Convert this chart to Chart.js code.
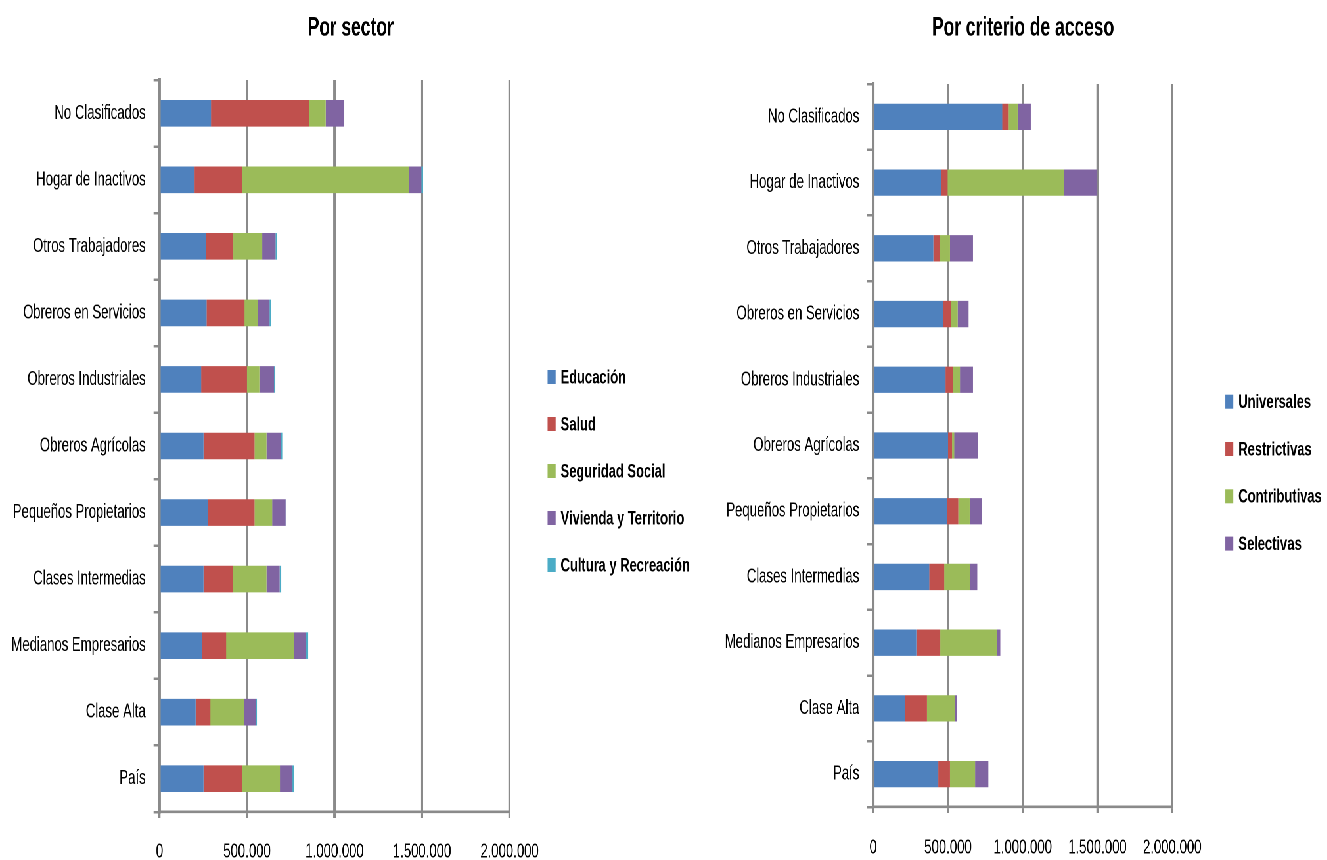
<!DOCTYPE html>
<html>
<head>
<meta charset="utf-8">
<script src="https://cdn.jsdelivr.net/npm/chart.js@4/dist/chart.umd.min.js"></script>
<style>
  html, body { margin: 0; padding: 0; background: #fff; }
  body { width: 1327px; height: 860px; position: relative; overflow: hidden; }
  #stage { position: absolute; left: 0; top: 0; height: 860px; transform-origin: 0 0; }
  .wrap { position: absolute; top: 0; height: 860px; }
</style>
</head>
<body>
<div id="stage">
  <div class="wrap" id="wrapL"><canvas id="chartL"></canvas></div>
  <div class="wrap" id="wrapR"><canvas id="chartR"></canvas></div>
</div>
<script>
// ---- Data ----
const categories = ["No Clasificados", "Hogar de Inactivos", "Otros Trabajadores", "Obreros en Servicios",
  "Obreros Industriales", "Obreros Agrícolas", "Pequeños Propietarios", "Clases Intermedias",
  "Medianos Empresarios", "Clase Alta", "País"];

// Por sector
const educacion     = [294000, 200000, 263000, 269000, 238000, 251000, 276000, 251000, 244000, 206000, 251000];
const salud         = [561000, 273000, 158000, 217000, 261000, 292000, 267000, 166000, 137000,  85000, 222000];
const seguridadSoc  = [ 94000, 952000, 166000,  76000,  71000,  68000, 101000, 194000, 387000, 191000, 215000];
const vivienda      = [102000,  71000,  76000,  67000,  85000,  80000,  76000,  75000,  66000,  67000,  72000];
const cultura       = [  4000,   9000,   8000,   8000,   6000,  10000,   4000,   9000,  16000,   7000,   8000];

// Por criterio de acceso
const universales   = [863000, 455000, 402000, 469000, 484000, 500000, 493000, 375000, 288000, 214000, 435000];
const restrictivas  = [ 43000,  43000,  44000,  51000,  49000,  27000,  76000, 100000, 160000, 145000,  78000];
const contributivas = [ 60000, 778000,  67000,  45000,  47000,  15000,  76000, 172000, 380000, 186000, 168000];
const selectivas    = [ 88000, 223000, 154000,  73000,  87000, 157000,  80000,  49000,  22000,  13000,  89000];

const xTicks = [0, 500000, 1000000, 1500000, 2000000];
const xTickLabels = ["0", "500.000", "1.000.000", "1.500.000", "2.000.000"];

const titleL = "Por sector";
const titleR = "Por criterio de acceso";
const legendL = ["Educación", "Salud", "Seguridad Social", "Vivienda y Territorio", "Cultura y Recreación"];
const legendR = ["Universales", "Restrictivas", "Contributivas", "Selectivas"];

// ---- Styles / layout ----
const S = 0.657; // horizontal compression of the whole figure (narrow lettering of the original)
const COLORS = ["#4F81BD", "#C0504D", "#9BBB59", "#8064A2", "#4BACC6"];
const FONT = "'Liberation Sans', Arial, sans-serif";
const GRID = "#8a8a8a";

Chart.defaults.font.family = FONT;
Chart.defaults.color = "#000";

document.getElementById('stage').style.width = (1400 / S) + 'px';
document.getElementById('stage').style.transform = 'scaleX(' + S + ')';

function manualLegend(x, y0, step) {
  return {
    id: 'manualLegend',
    afterDraw(chart) {
      const ctx = chart.ctx;
      ctx.save();
      ctx.font = "bold 19.7px " + FONT;
      ctx.textBaseline = 'middle';
      ctx.textAlign = 'left';
      chart.data.datasets.forEach((ds, i) => {
        const cy = y0 + i * step;
        ctx.fillStyle = ds.backgroundColor;
        ctx.fillRect(x, cy - 7, 8 / S, 14);
        ctx.fillStyle = "#000";
        ctx.fillText(ds.label, x + 13 / S, cy + 1);
      });
      ctx.restore();
    }
  };
}

function makeChart(id, wrapId, title, labels, series, o) {
  // canvas is centred on the title position; a blank right-hand box reserves legend room
  const pageLeft = 2 * o.titleX - o.canvasRight;
  const wrap = document.getElementById(wrapId);
  wrap.style.left = (pageLeft / S) + 'px';
  wrap.style.width = ((o.canvasRight - pageLeft) / S) + 'px';
  const datasets = series.map((s, i) => ({
    label: labels[i],
    data: s,
    backgroundColor: COLORS[i],
    borderWidth: 0,
    barPercentage: 0.4,
    categoryPercentage: 1.0
  }));
  const yWidth = (o.axisX - pageLeft) / S;
  const rightW = (o.canvasRight - o.plotRight) / S;
  return new Chart(document.getElementById(id), {
    type: 'bar',
    data: { labels: categories, datasets },
    options: {
      indexAxis: 'y',
      responsive: true,
      maintainAspectRatio: false,
      animation: false,
      devicePixelRatio: 2,
      layout: { padding: 0 },
      plugins: {
        legend: { display: false },
        tooltip: { enabled: false },
        title: {
          display: true,
          text: title,
          font: { size: 26.5, weight: 'bold', family: FONT },
          color: '#000',
          padding: { top: 12.1, bottom: o.titleBottom }
        }
      },
      scales: {
        x: {
          stacked: true,
          min: 0, max: 2000000,
          afterBuildTicks(scale) { scale.ticks = xTicks.map(v => ({ value: v })); },
          afterFit(scale) { scale.height = o.xHeight; },
          ticks: {
            maxRotation: 0, autoSkip: false,
            padding: o.xPad,
            font: { size: 20 },
            color: '#000',
            callback: (v) => xTickLabels[xTicks.indexOf(v)]
          },
          grid: { color: GRID, lineWidth: 2.3 / S, tickLength: 6, drawOnChartArea: true },
          border: { display: true, color: GRID, width: 2.6 }
        },
        y: {
          stacked: true,
          afterFit(scale) { scale.width = yWidth; },
          ticks: { padding: 12, font: { size: 20 }, color: '#000', autoSkip: false },
          grid: { display: true, drawOnChartArea: false, drawTicks: true, tickLength: 6 / S, offset: true, color: GRID, lineWidth: 2.5 },
          border: { display: true, color: GRID, width: 2.6 / S }
        },
        legendSpace: {
          type: 'linear',
          position: 'right',
          display: true,
          afterFit(scale) { scale.width = rightW; },
          ticks: { display: false },
          grid: { display: false, drawTicks: false },
          border: { display: false }
        }
      }
    },
    plugins: [manualLegend((o.legX - pageLeft) / S, o.legY, o.legStep)]
  });
}

makeChart('chartL', 'wrapL', titleL, legendL, [educacion, salud, seguridadSoc, vivienda, cultura], {
  titleX: 350.5, canvasRight: 700, axisX: 159.3, plotRight: 509.5,
  titleBottom: 36.1, xHeight: 48, xPad: 22,
  legX: 547.5, legY: 377, legStep: 47
});

makeChart('chartR', 'wrapR', titleR, legendR, [universales, restrictivas, contributivas, selectivas], {
  titleX: 1023, canvasRight: 1327, axisX: 873.3, plotRight: 1172,
  titleBottom: 40.1, xHeight: 53, xPad: 23,
  legX: 1225, legY: 401.7, legStep: 47.3
});
</script>
</body>
</html>
